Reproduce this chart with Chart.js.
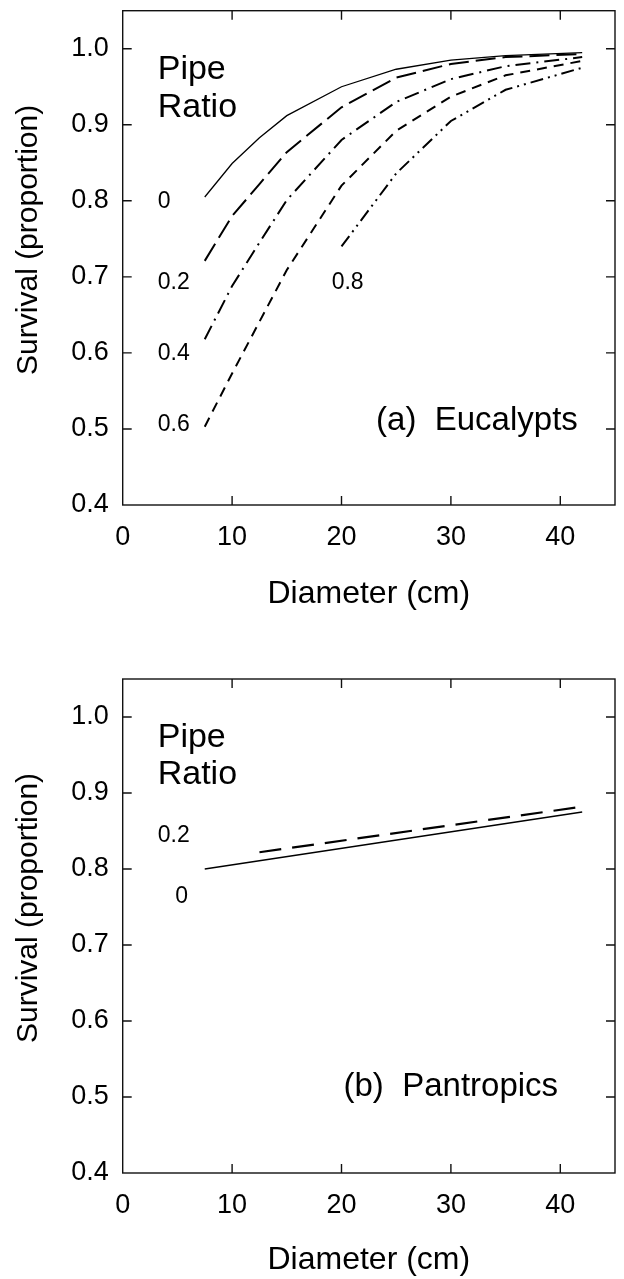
<!DOCTYPE html>
<html>
<head>
<meta charset="utf-8">
<script src="https://cdn.jsdelivr.net/npm/chart.js@4.4.1/dist/chart.umd.min.js"></script>
<style>
  body { margin: 0; background: #fff; }
  canvas { display: block; }
</style>
</head>
<body>
<canvas id="grafA" width="624" height="640"></canvas>
<canvas id="grafB" width="624" height="639"></canvas>
<script>
// ejes
const ticksX = [0, 10, 20, 30, 40];
const ticksY = [0.4, 0.5, 0.6, 0.7, 0.8, 0.9, 1.0];

// (a) Eucalypts
const diamEuc = [7.5, 10, 12.5, 15, 20, 25, 30, 35, 42];
const diamEuc08 = [20, 25, 30, 35, 42];
const eucPipe0 = [0.805, 0.849, 0.883, 0.912, 0.950, 0.973, 0.985, 0.991, 0.995];
const eucPipe02 = [0.721, 0.780, 0.822, 0.864, 0.923, 0.962, 0.980, 0.989, 0.993];
const eucPipe04 = [0.618, 0.688, 0.745, 0.801, 0.880, 0.930, 0.960, 0.977, 0.989];
const eucPipe06 = [0.503, 0.573, 0.641, 0.709, 0.820, 0.892, 0.937, 0.965, 0.984];
const eucPipe08 = [0.740, 0.836, 0.905, 0.946, 0.975];

// (b) Pantropics
const diamPan0 = [7.5, 42];
const diamPan02 = [12.5, 42];
const panPipe0 = [0.800, 0.875];
const panPipe02 = [0.822, 0.882];

const FUENTE = "'Liberation Sans', Arial, Helvetica, sans-serif";
const TITULO_Y = "Survival (proportion)";

function puntos(xs, ys) {
    return xs.map((v, i) => ({ x: v, y: ys[i] }));
}

function serie(xs, ys, dash, ancho) {
    return {
        data: puntos(xs, ys),
        showLine: true,
        borderColor: "#000",
        borderWidth: ancho,
        borderDash: dash,
        pointRadius: 0,
        tension: 0,
        fill: false
    };
}

// marco con marcas hacia dentro + textos sobre el grafico
const marco = {
    id: "marco",
    afterDraw(chart, args, opts) {
        const { ctx, chartArea: a, scales: { x, y } } = chart;
        ctx.save();
        ctx.strokeStyle = "#111";
        ctx.lineWidth = 1.4;
        ctx.strokeRect(a.left, a.top, a.right - a.left, a.bottom - a.top);

        const largo = 9;
        ctx.beginPath();
        ticksX.forEach(v => {
            const px = x.getPixelForValue(v);
            if (px <= a.left + 1 || px >= a.right - 1) return;
            ctx.moveTo(px, a.bottom); ctx.lineTo(px, a.bottom - largo);
            ctx.moveTo(px, a.top); ctx.lineTo(px, a.top + largo);
        });
        ticksY.forEach(v => {
            const py = y.getPixelForValue(v);
            if (py <= a.top + 1 || py >= a.bottom - 1) return;
            ctx.moveTo(a.left, py); ctx.lineTo(a.left + largo, py);
            ctx.moveTo(a.right, py); ctx.lineTo(a.right - largo, py);
        });
        ctx.stroke();

        ctx.fillStyle = "#000";
        ctx.textBaseline = "middle";
        opts.textos.forEach(t => {
            ctx.font = t.size + "px " + FUENTE;
            ctx.textAlign = t.align || "left";
            ctx.fillText(t.txt, x.getPixelForValue(t.x), y.getPixelForValue(t.y));
        });

        // titulo del eje y, un poco por encima del centro como en el original
        ctx.save();
        ctx.translate(29, (a.top + a.bottom) / 2 - 18);
        ctx.rotate(-Math.PI / 2);
        ctx.textAlign = "center";
        ctx.font = "30px " + FUENTE;
        ctx.fillText(TITULO_Y, 0, 0);
        ctx.restore();

        ctx.restore();
    }
};

function opciones(arriba, altoX, padTitulo, textos) {
    return {
        responsive: false,
        animation: false,
        layout: { padding: { top: arriba, right: 9, left: 0, bottom: 0 } },
        plugins: {
            legend: { display: false },
            tooltip: { enabled: false },
            marco: { textos: textos }
        },
        scales: {
            x: {
                type: "linear",
                min: 0,
                max: 45,
                afterBuildTicks: s => { s.ticks = ticksX.map(v => ({ value: v })); },
                afterFit: s => { s.height = altoX; s.paddingLeft = 0; s.paddingRight = 0; },
                grid: { display: false, drawTicks: false },
                border: { display: false },
                ticks: { color: "#000", padding: 16, font: { family: FUENTE, size: 27 } },
                title: {
                    display: true,
                    text: "Diameter (cm)",
                    color: "#000",
                    font: { family: FUENTE, size: 32 },
                    padding: { top: 0, bottom: padTitulo }
                }
            },
            y: {
                type: "linear",
                min: 0.4,
                max: 1.05,
                afterBuildTicks: s => { s.ticks = ticksY.map(v => ({ value: v })); },
                afterFit: s => { s.width = 122.7; s.paddingTop = 0; s.paddingBottom = 0; },
                grid: { display: false, drawTicks: false },
                border: { display: false },
                ticks: {
                    color: "#000",
                    padding: 14,
                    font: { family: FUENTE, size: 27 },
                    callback: v => Number(v).toFixed(1)
                },
                title: { display: false }
            }
        }
    };
}

const textosA = [
    { txt: "Pipe", x: 3.2, y: 0.972, size: 34 },
    { txt: "Ratio", x: 3.2, y: 0.923, size: 34 },
    { txt: "0", x: 3.2, y: 0.799, size: 23 },
    { txt: "0.2", x: 3.2, y: 0.693, size: 23 },
    { txt: "0.4", x: 3.2, y: 0.599, size: 23 },
    { txt: "0.6", x: 3.2, y: 0.505, size: 23 },
    { txt: "0.8", x: 19.1, y: 0.693, size: 23 },
    { txt: "(a)  Eucalypts", x: 41.6, y: 0.510, size: 33, align: "right" }
];

const textosB = [
    { txt: "Pipe", x: 3.2, y: 0.973, size: 34 },
    { txt: "Ratio", x: 3.2, y: 0.924, size: 34 },
    { txt: "0.2", x: 3.2, y: 0.844, size: 23 },
    { txt: "0", x: 4.8, y: 0.764, size: 23 },
    { txt: "(b)  Pantropics", x: 39.8, y: 0.513, size: 33, align: "right" }
];

new Chart(document.getElementById("grafA"), {
    type: "scatter",
    data: {
        datasets: [
            serie(diamEuc, eucPipe0, [], 1.3),
            serie(diamEuc, eucPipe02, [20, 7], 2),
            serie(diamEuc, eucPipe04, [15, 6, 2, 6], 2),
            serie(diamEuc, eucPipe06, [10, 7], 2),
            serie(diamEuc08, eucPipe08, [13, 5, 2, 5, 2, 5], 2)
        ]
    },
    options: opciones(10.7, 135, 27, textosA),
    plugins: [marco]
});

new Chart(document.getElementById("grafB"), {
    type: "scatter",
    data: {
        datasets: [
            serie(diamPan0, panPipe0, [], 1.3),
            serie(diamPan02, panPipe02, [22, 11], 2.2)
        ]
    },
    options: opciones(39, 106, 0, textosB),
    plugins: [marco]
});
</script>
</body>
</html>
